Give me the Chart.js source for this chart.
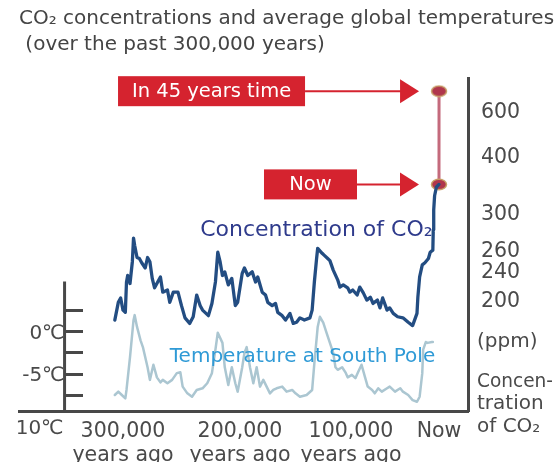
<!DOCTYPE html>
<html>
<head>
<meta charset="utf-8">
<script src="https://cdn.jsdelivr.net/npm/chart.js@4/dist/chart.umd.min.js"></script>
<style>
  html, body { margin: 0; padding: 0; background: #fff; }
  #wrap { width: 556px; height: 462px; }
</style>
</head>
<body>
<div id="wrap"><canvas id="chart" width="556" height="462"></canvas></div>
<script>
// --- values (age in thousands of years ago) ---
const CO2_AGE_KYR = [307,304,302,300,298,297,296,294,292,291,290,288,286,284,281,279,277,275,273,268,266,262,260,257,253,250,247,243,240,237,234,232,227,224,221,219,217,215,213,210,207,204,202,198,196,193,189,186,184,180,177,175,171,168,166,162,159,155,152,149,146,142,137,135,133,131,130,126,124,121,119,116,112,110,107,103,101,98,93,90,86,82,78,75,70,67,64,59,56,52,47,41,35,30,25,24,22,19,16,12,10,7,6.5,6,5,3,0];
const CO2_PPM = [182,198,203,191,189,225,234,223,249,273,265,253,252,248,243,253,249,230,217,232,211,214,198,211,211,195,184,179,185,207,195,191,186,197,225,258,249,234,239,221,230,195,198,237,243,234,239,225,232,211,207,198,195,197,189,186,182,188,179,180,184,182,184,191,225,252,262,257,255,252,250,241,228,218,221,217,211,214,207,218,210,200,204,197,200,193,203,191,193,188,185,184,180,177,188,204,232,246,248,252,258,260,282,305,330,345,350];

const TEMP_AGE_KYR = [307,304,301,298,297,294,291,290,288,285,283,279,277,274,271,268,266,262,258,254,251,249,245,241,237,232,228,224,221,219,215,213,210,207,204,202,198,196,194,191,188,185,182,179,176,173,170,167,162,158,153,150,146,140,135,133,130,128,125,122,119,116,114,112,108,105,103,99,95,92,88,84,81,76,73,69,65,59,56,50,44,41,35,30,25,22,19,18,15,13,8,7];
const TEMP_C = [-7.5,-7.1,-7.5,-7.9,-6.9,-3.0,1.4,2.0,0.6,-1.0,-1.8,-4.2,-5.7,-3.9,-5.4,-6.0,-5.7,-6.1,-5.7,-4.9,-4.8,-6.5,-7.3,-7.7,-6.9,-6.7,-6.1,-4.9,-2.1,-0.1,-1.3,-4.2,-6.3,-4.2,-6.1,-7.1,-4.2,-2.5,-1.8,-4.2,-6.1,-4.2,-6.5,-5.7,-6.5,-7.3,-6.9,-6.7,-6.5,-7.1,-6.9,-7.3,-7.7,-7.5,-6.9,-3.7,0.6,1.8,1.1,-0.1,-1.3,-2.5,-4.2,-4.5,-4.2,-4.8,-5.4,-5.1,-5.5,-4.8,-3.9,-5.4,-6.5,-6.9,-7.3,-6.7,-7.1,-6.7,-6.5,-7.1,-6.7,-7.1,-7.5,-8.1,-8.3,-7.7,-4.9,-2.1,-1.2,-1.3,-1.2,-1.2];

const OUTLOOK_AGE_KYR = [0, -0.045];
const OUTLOOK_PPM = [350, 690];
const OUTLOOK_LABELS = ['Now', 'In 45 years time'];

const AGE_TICKS = [300, 200, 100, 0];
const AGE_LABELS = [['300,000', 'years ago'], ['200,000', 'years ago'], ['100,000', 'years ago'], 'Now'];
const PPM_TICKS = [200, 240, 260, 300, 400, 600];
const TEMP_TICKS = [-7.5, -5, -2.5, 0, 2.5];
const TEMP_LABELS = ['', '-5℃', '', '0℃', ''];

const TITLE = ['CO₂ concentrations and average global temperatures', ' (over the past 300,000 years)'];

// --- axis calibration: the drawing uses uneven spacing on both axes ---
const AXIS_MAPS = {
  x:   { values: [-33, 0, 100, 200, 300, 389], fracs: [1, 0.9354, 0.7394, 0.4922, 0.2316, 0] },
  co2: { values: [100, 200, 240, 260, 300, 400, 600, 750], fracs: [0, 0.333, 0.420, 0.483, 0.595, 0.766, 0.901, 1] }
};
const TEMP_AXIS_AGE = 350;   // where the small temperature axis stands
const TEMP_AXIS_TOP = 6;     // its stem runs up to this temperature

const FONT = 'DejaVu Sans';
const TEXT = '#4a4a4a';
const AXIS = '#484848';
const RED = '#d5232f';

class PiecewiseScale extends Chart.LinearScale {
  static id = 'piecewise';
  static defaults = {};
  _decimal(v) {
    const { values: vs, fracs: fs } = AXIS_MAPS[this.id];
    let i = 1;
    while (i < vs.length - 1 && v > vs[i]) i++;
    return fs[i - 1] + (v - vs[i - 1]) * (fs[i] - fs[i - 1]) / (vs[i] - vs[i - 1]);
  }
  getPixelForValue(v) {
    if (v === null || isNaN(v)) return NaN;
    return this.getPixelForDecimal(this._decimal(v));
  }
  getValueForPixel(p) {
    const d = this.getDecimalForPixel(p);
    const { values: vs, fracs: fs } = AXIS_MAPS[this.id];
    for (let i = 1; i < vs.length; i++) {
      const lo = Math.min(fs[i - 1], fs[i]), hi = Math.max(fs[i - 1], fs[i]);
      if (d >= lo && d <= hi) return vs[i - 1] + (d - fs[i - 1]) * (vs[i] - vs[i - 1]) / (fs[i] - fs[i - 1]);
    }
    return NaN;
  }
}
Chart.register(PiecewiseScale);

function ellipseMarker() {
  const c = document.createElement('canvas');
  c.width = 18; c.height = 13;
  const g = c.getContext('2d');
  g.beginPath();
  g.ellipse(9, 6.5, 7.5, 5.3, 0, 0, Math.PI * 2);
  g.fillStyle = '#b0364c';
  g.fill();
  g.lineWidth = 1.5;
  g.strokeStyle = '#c7a166';
  g.stroke();
  return c;
}

const CALLOUTS = [
  { width: 93, shaft: 43 },
  { width: 187, shaft: 95 }
];

// call-out boxes, curve names, temperature stem and the right-hand axis caption
const decorations = {
  id: 'decorations',
  afterDatasetsDraw(chart) {
    const { ctx, chartArea, scales } = chart;
    ctx.save();

    // temperature axis stem
    const ax = scales.x.getPixelForValue(TEMP_AXIS_AGE);
    ctx.strokeStyle = AXIS;
    ctx.lineWidth = 3;
    ctx.beginPath();
    ctx.moveTo(ax, scales.temp.getPixelForValue(TEMP_AXIS_TOP));
    ctx.lineTo(ax, chartArea.bottom);
    ctx.stroke();

    ctx.fillStyle = TEXT;
    ctx.font = `20px "${FONT}"`;
    ctx.textBaseline = 'middle';
    ctx.textAlign = 'right';
    ctx.fillText('10℃', ax - 1, chartArea.bottom + 18);

    // right axis caption
    ctx.textAlign = 'left';
    const cx = chartArea.right + 9;
    ctx.fillText('(ppm)', cx, 342);
    ctx.fillText('Concen-', cx, 382, 76);
    ctx.fillText('tration', cx, 404);
    ctx.fillText('of CO₂', cx, 427);

    // curve names
    ctx.font = `22px "${FONT}"`;
    ctx.fillStyle = '#2f3b8c';
    ctx.fillText('Concentration of CO₂', scales.x.getPixelForValue(234), scales.co2.getPixelForValue(281));
    ctx.font = `20px "${FONT}"`;
    ctx.fillStyle = '#2f9ad6';
    ctx.fillText('Temperature at South Pole', scales.x.getPixelForValue(260), scales.temp.getPixelForValue(-3));

    // call-outs pointing at the outlook markers
    const meta = chart.getDatasetMeta(2);
    meta.data.forEach((pt, i) => {
      const spec = CALLOUTS[i];
      const tip = pt.x - 20, y = pt.y, base = tip - 19;
      const boxRight = base - spec.shaft;
      ctx.fillStyle = RED;
      ctx.strokeStyle = RED;
      ctx.lineWidth = 2;
      ctx.beginPath();
      ctx.moveTo(tip, y);
      ctx.lineTo(base, y - 12);
      ctx.lineTo(base, y + 12);
      ctx.closePath();
      ctx.fill();
      ctx.beginPath();
      ctx.moveTo(boxRight, y);
      ctx.lineTo(base + 1, y);
      ctx.stroke();
      ctx.fillRect(boxRight - spec.width, y - 15, spec.width, 30);
      ctx.fillStyle = '#fff';
      ctx.font = `19.5px "${FONT}"`;
      ctx.textAlign = 'center';
      ctx.fillText(OUTLOOK_LABELS[i], boxRight - spec.width / 2, y + 1);
      ctx.textAlign = 'left';
    });

    ctx.restore();
  }
};

const pts = (xs, ys) => xs.map((x, i) => ({ x, y: ys[i] }));

new Chart(document.getElementById('chart'), {
  type: 'line',
  data: {
    datasets: [
      {
        label: 'Temperature at South Pole',
        data: pts(TEMP_AGE_KYR, TEMP_C),
        yAxisID: 'temp',
        borderColor: '#abc6d1',
        borderWidth: 2.5,
        pointRadius: 0
      },
      {
        label: 'Concentration of CO₂',
        data: pts(CO2_AGE_KYR, CO2_PPM),
        yAxisID: 'co2',
        borderColor: '#234d82',
        borderWidth: 3.3,
        pointRadius: 0
      },
      {
        label: 'Outlook',
        data: pts(OUTLOOK_AGE_KYR, OUTLOOK_PPM),
        yAxisID: 'co2',
        borderColor: '#c46a7c',
        borderWidth: 3,
        pointStyle: ellipseMarker(),
        pointRadius: 7
      }
    ]
  },
  options: {
    responsive: false,
    animation: false,
    events: [],
    layout: { padding: { left: 19, right: 0, top: 0, bottom: 0 } },
    elements: { line: { tension: 0, borderJoinStyle: 'round', borderCapStyle: 'round' } },
    plugins: {
      legend: { display: false },
      tooltip: { enabled: false },
      title: {
        display: true,
        text: TITLE,
        align: 'start',
        color: '#444',
        font: { family: FONT, size: 20, weight: 'normal', lineHeight: 1.3 },
        padding: { top: 6, bottom: 20 }
      }
    },
    scales: {
      x: {
        type: 'piecewise',
        axis: 'x',
        position: 'bottom',
        min: -33,
        max: 389,
        afterBuildTicks: s => { s.ticks = AGE_TICKS.map(v => ({ value: v })); },
        afterFit: s => { s.height = 51; },
        grid: { display: false },
        border: { display: true, color: AXIS, width: 3 },
        ticks: {
          autoSkip: false,
          maxRotation: 0,
          padding: 0,
          color: TEXT,
          font: { family: FONT, size: 20.5, lineHeight: 1.2 },
          callback: (v, i) => AGE_LABELS[i]
        }
      },
      co2: {
        type: 'piecewise',
        axis: 'y',
        position: 'right',
        min: 100,
        max: 750,
        afterBuildTicks: s => { s.ticks = PPM_TICKS.map(v => ({ value: v })); },
        afterFit: s => { s.width = 88; },
        grid: { display: false },
        border: { display: true, color: AXIS, width: 3 },
        ticks: {
          autoSkip: false,
          padding: 5,
          labelOffset: 2,
          color: TEXT,
          font: { family: FONT, size: 20.5 },
          callback: (v, i) => String(PPM_TICKS[i])
        }
      },
      temp: {
        type: 'linear',
        axis: 'y',
        position: { x: TEMP_AXIS_AGE },
        min: -9.4,
        max: 30.2,
        afterBuildTicks: s => { s.ticks = TEMP_TICKS.map(v => ({ value: v })); },
        border: { display: false },
        grid: { display: true, drawOnChartArea: false, drawTicks: true, tickLength: -18, color: AXIS, lineWidth: 3 },
        ticks: {
          autoSkip: false,
          padding: 30,
          labelOffset: 2,
          color: TEXT,
          font: { family: FONT, size: 20 },
          callback: (v, i) => TEMP_LABELS[i]
        }
      }
    }
  },
  plugins: [decorations]
});
</script>
</body>
</html>
